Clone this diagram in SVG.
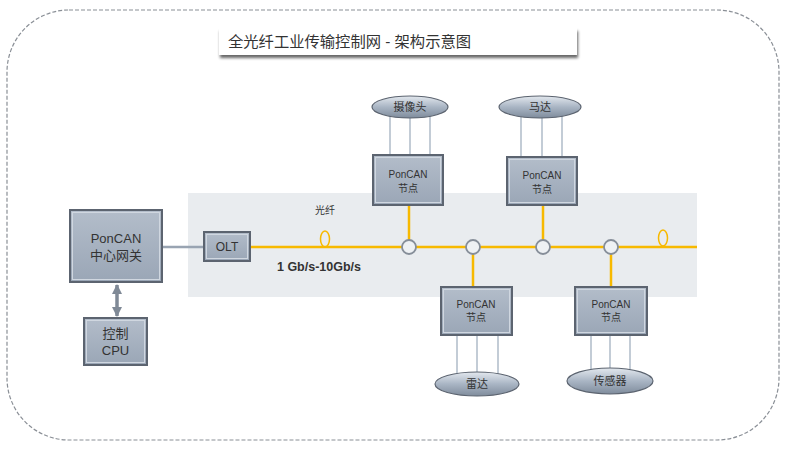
<svg xmlns="http://www.w3.org/2000/svg" width="786" height="451" viewBox="0 0 786 451">
<defs>
<linearGradient id="boxg" x1="0" y1="0" x2="0" y2="1">
<stop offset="0" stop-color="#b3bdca"/><stop offset="1" stop-color="#9aa6b6"/>
</linearGradient>
<linearGradient id="ellg" x1="0" y1="0" x2="0" y2="1">
<stop offset="0" stop-color="#e3e8ee"/><stop offset="0.5" stop-color="#a9b5c4"/><stop offset="1" stop-color="#7f8c9c"/>
</linearGradient>
<filter id="sh" x="-5%" y="-30%" width="110%" height="170%">
<feGaussianBlur in="SourceAlpha" stdDeviation="1.5"/>
<feOffset dx="1" dy="3" result="b"/>
<feComponentTransfer><feFuncA type="linear" slope="0.6"/></feComponentTransfer>
<feMerge><feMergeNode/><feMergeNode in="SourceGraphic"/></feMerge>
</filter>
<marker id="ah" viewBox="0 0 10 10" refX="9" refY="5" markerWidth="3" markerHeight="3" orient="auto-start-reverse">
<path d="M0,0 L10,5 L0,10 z" fill="#7f8996"/>
</marker>
</defs>
<style>
.box{fill:url(#boxg);stroke:#5c6470;stroke-width:2}
.inner{fill:none;stroke:#d0d7e0;stroke-width:1}
.ell{fill:url(#ellg);stroke:#5c6470;stroke-width:1.2}
.t{font-family:"Liberation Sans","Noto Sans CJK SC",sans-serif;fill:#333;text-anchor:middle}
.tn{font-size:10px}
.tg{font-size:13px}
.fib{stroke:#f7b900;stroke-width:2.5;fill:none}
.wire{stroke:#c3ccd6;stroke-width:2}
.junc{fill:#eef1f4;stroke:#868e99;stroke-width:1.8}
</style>
<rect x="7" y="10" width="772" height="430" rx="62" ry="62" fill="#fff" stroke="#8a8f96" stroke-width="1.2" stroke-dasharray="4,2"/>
<g id="title">
<rect x="219" y="28" width="358" height="27" fill="#fff" filter="url(#sh)"/>
<text x="228" y="47" font-family="Liberation Sans,'Noto Sans CJK SC',sans-serif" font-size="15.3" fill="#333">全光纤工业传输控制网 - 架构示意图</text>
</g>
<rect id="band" x="188" y="193" width="509" height="104" fill="#e9ecef"/>
<g id="connectors">
<line x1="162" y1="247" x2="204" y2="247" stroke="#99a4b2" stroke-width="2.5"/>
<line x1="117" y1="285" x2="117" y2="316" stroke="#7f8996" stroke-width="3.5" marker-start="url(#ah)" marker-end="url(#ah)"/>
<line class="fib" x1="250" y1="247" x2="697" y2="247"/>
<line class="fib" x1="409" y1="205" x2="409" y2="247"/>
<line class="fib" x1="543" y1="205" x2="543" y2="247"/>
<line class="fib" x1="473" y1="247" x2="473" y2="287"/>
<line class="fib" x1="611" y1="247" x2="611" y2="287"/>
<ellipse cx="325" cy="239" rx="4.5" ry="8" fill="none" stroke="#f7b900" stroke-width="1.5"/>
<ellipse cx="663" cy="238" rx="4.5" ry="8" fill="none" stroke="#f7b900" stroke-width="1.5"/>
<circle class="junc" cx="409" cy="247" r="7"/>
<circle class="junc" cx="473" cy="247" r="7"/>
<circle class="junc" cx="543" cy="247" r="7"/>
<circle class="junc" cx="611" cy="247" r="7"/>
<line class="wire" x1="390" y1="116" x2="390" y2="155"/>
<line class="wire" x1="410" y1="118" x2="410" y2="155"/>
<line class="wire" x1="430" y1="116" x2="430" y2="155"/>
<line class="wire" x1="521" y1="116" x2="521" y2="157"/>
<line class="wire" x1="542" y1="118" x2="542" y2="157"/>
<line class="wire" x1="562" y1="116" x2="562" y2="157"/>
<line class="wire" x1="457" y1="335" x2="457" y2="375"/>
<line class="wire" x1="477" y1="335" x2="477" y2="373"/>
<line class="wire" x1="498" y1="335" x2="498" y2="375"/>
<line class="wire" x1="591" y1="335" x2="591" y2="370"/>
<line class="wire" x1="610" y1="335" x2="610" y2="368"/>
<line class="wire" x1="630" y1="335" x2="630" y2="370"/>
</g>
<text class="t" x="325" y="214" font-size="10">光纤</text>
<text class="t" x="319" y="271" font-size="12.5" font-weight="bold" fill="#444">1 Gb/s-10Gb/s</text>
<g id="gateway">
<rect class="box" x="70" y="210" width="92" height="72"/>
<rect class="inner" x="72.5" y="212.5" width="87" height="67"/>
<text class="t tg" x="116" y="243">PonCAN</text>
<text class="t tg" x="116" y="260">中心网关</text>
</g>
<g id="cpu">
<rect class="box" x="84" y="318" width="63" height="47"/>
<rect class="inner" x="86.5" y="320.5" width="58" height="42"/>
<text class="t tg" x="115.5" y="338">控制</text>
<text class="t tg" x="115.5" y="355">CPU</text>
</g>
<g id="olt">
<rect class="box" x="204" y="232" width="46" height="29"/>
<rect class="inner" x="206.5" y="234.5" width="41" height="24"/>
<text class="t" x="227" y="251" font-size="12" fill="#333">OLT</text>
</g>
<g id="node1">
<rect class="box" x="373" y="155" width="70" height="50"/>
<rect class="inner" x="375.5" y="157.5" width="65" height="45"/>
<text class="t tn" x="408" y="178">PonCAN</text>
<text class="t tn" x="408" y="192">节点</text>
</g>
<g id="node2">
<rect class="box" x="507" y="157" width="70" height="48"/>
<rect class="inner" x="509.5" y="159.5" width="65" height="43"/>
<text class="t tn" x="542" y="179">PonCAN</text>
<text class="t tn" x="542" y="193">节点</text>
</g>
<g id="node3">
<rect class="box" x="441" y="287" width="71" height="48"/>
<rect class="inner" x="443.5" y="289.5" width="66" height="43"/>
<text class="t tn" x="476" y="308">PonCAN</text>
<text class="t tn" x="476" y="321">节点</text>
</g>
<g id="node4">
<rect class="box" x="575" y="287" width="72" height="48"/>
<rect class="inner" x="577.5" y="289.5" width="67" height="43"/>
<text class="t tn" x="611" y="308">PonCAN</text>
<text class="t tn" x="611" y="321">节点</text>
</g>
<g id="camera">
<ellipse class="ell" cx="410" cy="107" rx="38" ry="11"/>
<text class="t" x="410" y="111" font-size="11">摄像头</text>
</g>
<g id="motor">
<ellipse class="ell" cx="540" cy="107" rx="41" ry="11"/>
<text class="t" x="540" y="111" font-size="11">马达</text>
</g>
<g id="radar">
<ellipse class="ell" cx="477" cy="384" rx="42" ry="12"/>
<text class="t" x="477" y="388" font-size="11">雷达</text>
</g>
<g id="sensor">
<ellipse class="ell" cx="610" cy="381" rx="43" ry="13"/>
<text class="t" x="610" y="385" font-size="11">传感器</text>
</g>
</svg>
